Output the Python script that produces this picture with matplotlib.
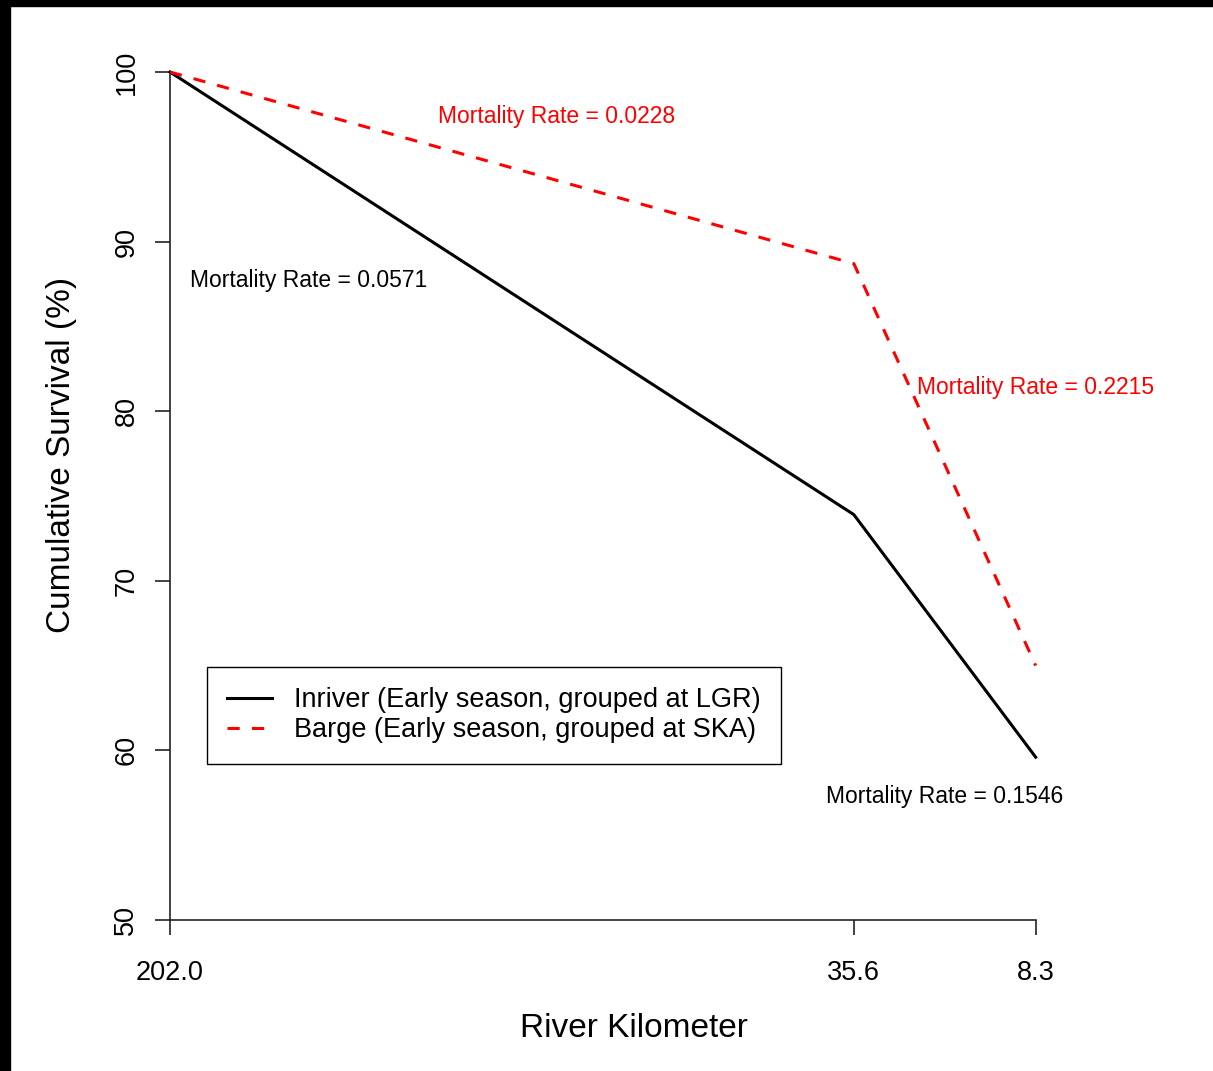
import matplotlib.pyplot as plt
from matplotlib.patches import Rectangle

plt.rcParams["font.family"] = ["Liberation Sans", "DejaVu Sans"]

# stations along the route (plot position) and their river km labels
station_pos = [0.0, 79.0, 100.0]
station_rkm = ["202.0", "35.6", "8.3"]

inriver = [100.0, 73.9, 59.6]
barge = [100.0, 88.7, 65.0]

# (x, y, text, colour) for the segment mortality notes
notes = [
    (44.6, 97.4, "Mortality Rate = 0.0228", "red"),
    (16.0, 87.7, "Mortality Rate = 0.0571", "black"),
    (100.0, 81.4, "Mortality Rate = 0.2215", "red"),
    (89.5, 57.3, "Mortality Rate = 0.1546", "black"),
]

W, H = 1213, 1071
fig = plt.figure(figsize=(W / 100, H / 100), dpi=100)
ax = fig.add_axes([170 / W, 151 / H, 928 / W, 848 / H])

ax.plot(station_pos, inriver, color="black", lw=2.2,
        label="Inriver (Early season, grouped at LGR)", clip_on=False)
ax.plot(station_pos, barge, color="red", lw=2.2, dashes=(4, 4),
        label="Barge (Early season, grouped at SKA)", clip_on=False)

for x, y, s, c in notes:
    ax.text(x, y, s, color=c, fontsize=16.5, ha="center", va="center")

ax.set_xlim(0, 107.2)
ax.set_ylim(50, 100)
ax.set_xticks(station_pos)
ax.set_xticklabels(station_rkm)
ax.set_yticks([50, 60, 70, 80, 90, 100])
ax.tick_params(axis="both", direction="out", length=11, width=1.2,
               color="#222222", labelsize=19.5)
ax.tick_params(axis="x", pad=18)
ax.tick_params(axis="y", pad=11)
for lab in ax.get_yticklabels():
    lab.set_rotation(90)
    lab.set_va("center")

for side in ("top", "right"):
    ax.spines[side].set_visible(False)
ax.spines["bottom"].set_bounds(0, 100)
for side in ("left", "bottom"):
    ax.spines[side].set_linewidth(1.2)
    ax.spines[side].set_color("#222222")

ax.set_xlabel("River Kilometer", fontsize=24)
ax.set_ylabel("Cumulative Survival (%)", fontsize=24)
ax.xaxis.set_label_coords(0.5, -0.110)
ax.yaxis.set_label_coords(-0.100, 0.548)

leg = ax.legend(loc="upper left", bbox_to_anchor=(0.0399, 0.2983),
                borderaxespad=0, fontsize=19.5, fancybox=False,
                edgecolor="black", framealpha=1, handlelength=1.65,
                handletextpad=0.8, labelspacing=0.15, borderpad=0.75)
leg.get_frame().set_linewidth(1.0)

# dark frame strips along the top and left edges
fig.patches.append(Rectangle((0, 1 - 6 / H), 1, 6 / H, transform=fig.transFigure,
                             color="black", zorder=10))
fig.patches.append(Rectangle((0, 0), 10 / W, 1, transform=fig.transFigure,
                             color="black", zorder=10))

fig.savefig("out.png", dpi=100, facecolor="white")
